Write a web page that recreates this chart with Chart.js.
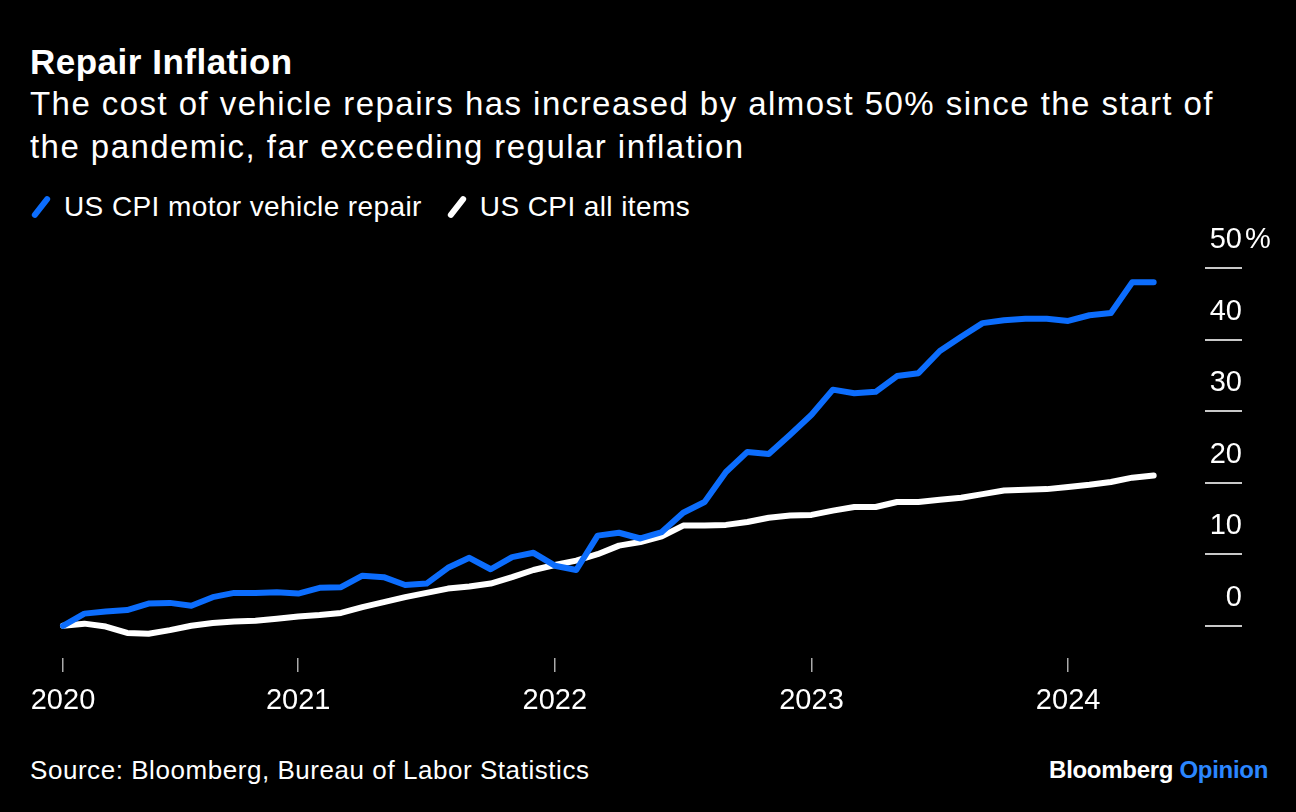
<!DOCTYPE html>
<html>
<head>
<meta charset="utf-8">
<script src="https://cdn.jsdelivr.net/npm/chart.js@4.4.1/dist/chart.umd.min.js"></script>
<style>
body { margin:0; background:#000; width:1296px; height:812px; overflow:hidden; position:relative;
  font-family:"Liberation Sans", Arial, sans-serif; color:#fff; }
#title { position:absolute; left:30px; top:41px; font-size:35px; line-height:42px; font-weight:bold; letter-spacing:0.5px; }
#subtitle { position:absolute; left:30px; top:82px; font-size:33px; line-height:43px; letter-spacing:1.45px; white-space:nowrap; }
#legend { position:absolute; left:30px; top:191px; height:32px; font-size:28px; line-height:32px; letter-spacing:0.4px; display:flex; align-items:center; }
.item { display:flex; align-items:center; margin-right:24px; }
.swatch { width:6px; height:26px; transform:rotate(38deg); border-radius:3px; margin:0 20px 0 8px; }
#source { position:absolute; left:30px; top:755px; font-size:26px; line-height:30px; letter-spacing:0.55px; }
#brand { position:absolute; right:28px; top:756px; font-size:24px; line-height:28px; font-weight:bold; letter-spacing:-0.3px; }
#brand span { color:#2b86ff; }
#wrap { position:absolute; left:0; top:215px; width:1296px; height:535px; }
</style>
</head>
<body>
<div id="title">Repair Inflation</div>
<div id="subtitle">The cost of vehicle repairs has increased by almost 50% since the start of<br>the pandemic, far exceeding regular inflation</div>
<div id="legend">
  <div class="item"><div class="swatch" style="background:#0c6dfd"></div>US CPI motor vehicle repair</div>
  <div class="item"><div class="swatch" style="background:#fff"></div>US CPI all items</div>
</div>
<div id="wrap"><canvas id="myChart"></canvas></div>
<div id="source">Source: Bloomberg, Bureau of Labor Statistics</div>
<div id="brand">Bloomberg <span>Opinion</span></div>

<script>
// monthly points, Feb 2020 - May 2024
const months = [
  '2020-02','2020-03','2020-04','2020-05','2020-06','2020-07','2020-08','2020-09','2020-10','2020-11','2020-12',
  '2021-01','2021-02','2021-03','2021-04','2021-05','2021-06','2021-07','2021-08','2021-09','2021-10','2021-11','2021-12',
  '2022-01','2022-02','2022-03','2022-04','2022-05','2022-06','2022-07','2022-08','2022-09','2022-10','2022-11','2022-12',
  '2023-01','2023-02','2023-03','2023-04','2023-05','2023-06','2023-07','2023-08','2023-09','2023-10','2023-11','2023-12',
  '2024-01','2024-02','2024-03','2024-04','2024-05'
];
// % change since start of pandemic
const repair = [0, 1.7, 2.0, 2.2, 3.1, 3.2, 2.8, 4.0, 4.6, 4.6, 4.7,
  4.5, 5.3, 5.4, 7.0, 6.8, 5.7, 5.9, 8.1, 9.5, 7.9, 9.6, 10.2,
  8.4, 7.8, 12.6, 13.0, 12.2, 13.1, 15.8, 17.3, 21.5, 24.3, 24.0, 26.7,
  29.5, 33.0, 32.5, 32.7, 34.9, 35.3, 38.4, 40.4, 42.3, 42.7, 42.9, 42.9,
  42.6, 43.4, 43.7, 48.0, 48.0];
const allItems = [0, 0.3, -0.1, -1.0, -1.1, -0.6, 0, 0.4, 0.6, 0.7, 1.0,
  1.3, 1.5, 1.8, 2.6, 3.3, 4.0, 4.6, 5.2, 5.5, 5.9, 6.8, 7.8,
  8.5, 9.1, 10.0, 11.2, 11.7, 12.5, 14.0, 14.0, 14.1, 14.5, 15.1, 15.4,
  15.5, 16.1, 16.6, 16.6, 17.3, 17.3, 17.6, 17.9, 18.4, 18.9, 19.0, 19.1,
  19.4, 19.7, 20.1, 20.7, 21.0];
const yearLabels = ['2020', '2021', '2022', '2023', '2024'];
const yTicks = [0, 10, 20, 30, 40, 50];

function monthIdx(s) {
  var p = s.split('-');
  return (parseInt(p[0]) - 2020) * 12 + parseInt(p[1]) - 1;
}
const xs = months.map(monthIdx);
// 2020 label sits on the first point, the rest on January
const yearTickVals = yearLabels.map((y, i) => i === 0 ? xs[0] : monthIdx(y + '-01'));

const FONT = '"Liberation Sans", Arial, sans-serif';

// y labels sit above the short tick lines on the right
const yLabels = {
  id: 'yLabels',
  afterDraw(chart) {
    const ctx = chart.ctx, ys = chart.scales.y;
    const xr = chart.chartArea.right + 37;
    ctx.save();
    ctx.font = '29px ' + FONT;
    ctx.fillStyle = '#fff';
    ctx.textBaseline = 'alphabetic';
    yTicks.forEach(v => {
      const py = ys.getPixelForValue(v) - 20;
      ctx.textAlign = 'right';
      ctx.fillText(String(v), xr, py);
      if (v === 50) {
        ctx.textAlign = 'left';
        ctx.fillText('%', xr + 3, py);
      }
    });
    ctx.restore();
  }
};

var ctx = document.getElementById('myChart').getContext('2d');
var myChart = new Chart(ctx, {
  type: 'line',
  data: {
    datasets: [{
      label: 'US CPI motor vehicle repair',
      data: repair.map((v, i) => ({x: xs[i], y: v})),
      borderColor: '#0c6dfd',
      borderWidth: 6,
      pointRadius: 0,
      borderCapStyle: 'round',
      borderJoinStyle: 'round',
      clip: false
    }, {
      label: 'US CPI all items',
      data: allItems.map((v, i) => ({x: xs[i], y: v})),
      borderColor: '#ffffff',
      borderWidth: 6,
      pointRadius: 0,
      borderCapStyle: 'round',
      borderJoinStyle: 'round',
      clip: false
    }]
  },
  options: {
    responsive: true,
    maintainAspectRatio: false,
    animation: false,
    layout: { padding: { left: 63, right: 0, top: 53, bottom: 32 } },
    plugins: { legend: { display: false }, tooltip: { enabled: false } },
    scales: {
      x: {
        type: 'linear',
        min: xs[0],
        max: xs[0] + 53.4,
        afterBuildTicks: s => { s.ticks = yearTickVals.map(v => ({value: v})); },
        afterFit: s => { s.height = 60; },
        ticks: {
          autoSkip: false, maxRotation: 0, padding: 12,
          color: '#fff', font: { family: FONT, size: 29 },
          callback: (v, i) => yearLabels[i]
        },
        grid: { drawOnChartArea: false, drawTicks: true, tickLength: 14, tickColor: '#aaa', lineWidth: 1.5 },
        border: { display: false }
      },
      y: {
        position: 'right',
        min: -4.5,
        max: 50,
        afterBuildTicks: s => { s.ticks = yTicks.map(v => ({value: v})); },
        afterFit: s => { s.width = 91; },
        ticks: { display: false },
        grid: { drawOnChartArea: false, drawTicks: true, tickLength: 37, tickColor: '#c8c8c8', lineWidth: 2 },
        border: { display: false }
      }
    }
  },
  plugins: [yLabels]
});
</script>
</body>
</html>
